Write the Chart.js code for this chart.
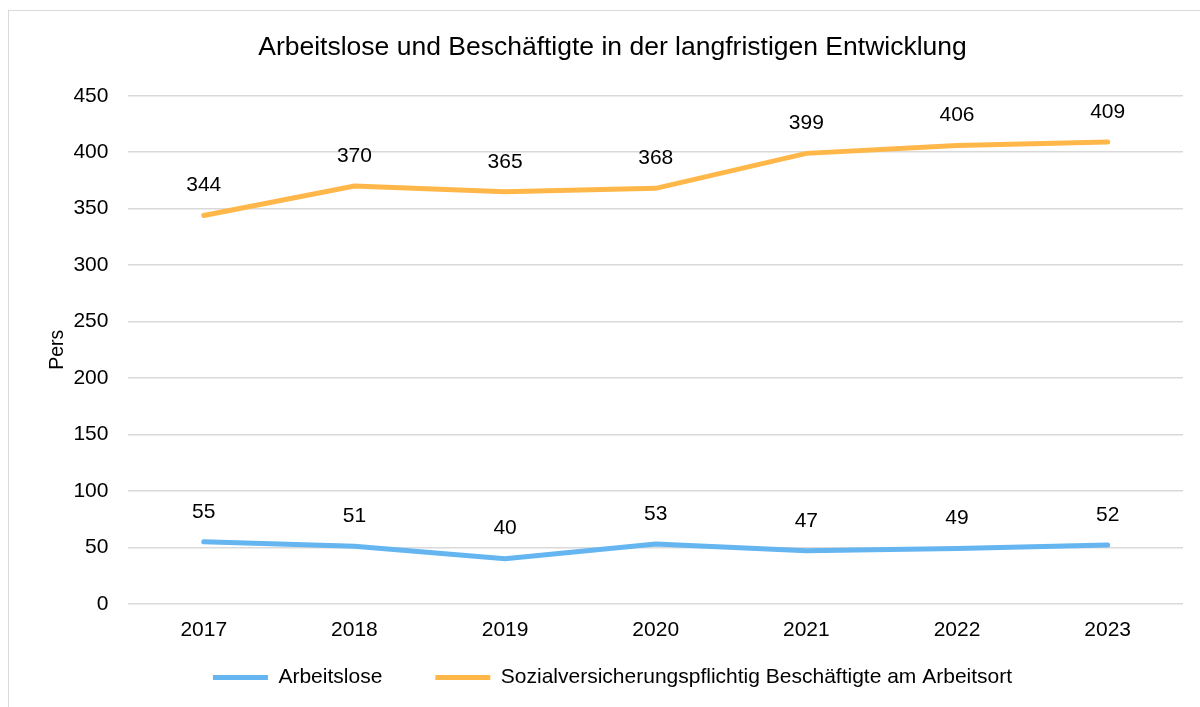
<!DOCTYPE html>
<html>
<head>
<meta charset="utf-8">
<script src="https://cdn.jsdelivr.net/npm/chart.js@4"></script>
<style>
  body { margin: 0; background: #fff; overflow: hidden; }
  #wrap { position: relative; width: 1200px; height: 707px; overflow: hidden; }
  #frame { position: absolute; left: 8px; top: 10px; width: 1220px; height: 710px; border: 1px solid #D9D9D9; }
  canvas { position: absolute; left: 0; top: 0; }
</style>
</head>
<body>
<div id="wrap">
  <div id="frame"></div>
  <canvas id="chart" width="1224" height="707"></canvas>
</div>
<script>
const years = ['2017', '2018', '2019', '2020', '2021', '2022', '2023'];
const arbeitslose = [55, 51, 40, 53, 47, 49, 52];
const beschaeftigte = [344, 370, 365, 368, 399, 406, 409];
const yTicks = [0, 50, 100, 150, 200, 250, 300, 350, 400, 450];

const FONT = '"Liberation Sans", Arial, sans-serif';

// value labels above each point
const labelPlugin = {
    id: 'valueLabels',
    afterDatasetsDraw(chart) {
        const ctx = chart.ctx;
        ctx.save();
        ctx.font = '21px ' + FONT;
        ctx.fillStyle = '#000';
        ctx.textAlign = 'center';
        ctx.textBaseline = 'middle';
        chart.data.datasets.forEach((ds, i) => {
            chart.getDatasetMeta(i).data.forEach((pt, j) => {
                ctx.fillText(ds.data[j], pt.x, pt.y - 30);
            });
        });
        ctx.restore();
    }
};

document.addEventListener("DOMContentLoaded", function() {
    const chart = document.getElementById('chart').getContext('2d');
    new Chart(chart, {
        type: 'line',
        data: {
            labels: years,
            datasets: [{
                label: 'Arbeitslose',
                data: arbeitslose,
                borderColor: '#64B5F0',
                backgroundColor: '#64B5F0',
                borderWidth: 5,
                borderCapStyle: 'round',
                pointRadius: 0,
                tension: 0
            }, {
                label: 'Sozialversicherungspflichtig Beschäftigte am Arbeitsort',
                data: beschaeftigte,
                borderColor: '#FFB74A',
                backgroundColor: '#FFB74A',
                borderWidth: 5,
                borderCapStyle: 'round',
                pointRadius: 0,
                tension: 0
            }]
        },
        options: {
            responsive: false,
            animation: false,
            layout: {
                padding: { left: 42, right: 41, top: 18, bottom: 9 }
            },
            scales: {
                y: {
                    min: 0,
                    max: 450,
                    afterBuildTicks: axis => { axis.ticks = yTicks.map(v => ({ value: v })); },
                    border: { display: false },
                    grid: { color: '#D9D9D9', lineWidth: 1.5, drawTicks: false },
                    ticks: {
                        padding: 20,
                        color: '#000',
                        font: { size: 21, family: FONT }
                    },
                    title: {
                        display: true,
                        text: 'Pers',
                        color: '#000',
                        padding: { top: 4, bottom: -16 },
                        font: { size: 19.5, family: FONT }
                    }
                },
                x: {
                    offset: true,
                    border: { display: false },
                    grid: { display: false },
                    ticks: {
                        padding: 6,
                        color: '#000',
                        font: { size: 21, family: FONT }
                    }
                }
            },
            plugins: {
                title: {
                    display: true,
                    text: 'Arbeitslose und Beschäftigte in der langfristigen Entwicklung',
                    color: '#000',
                    padding: { top: 14, bottom: 32 },
                    font: { size: 26.5, weight: 'normal', family: FONT }
                },
                legend: {
                    position: 'bottom',
                    labels: {
                        usePointStyle: true,
                        pointStyle: 'line',
                        pointStyleWidth: 55,
                        padding: 18,
                        color: '#000',
                        font: { size: 21, family: FONT },
                        generateLabels: chart => {
                            const items = Chart.defaults.plugins.legend.labels.generateLabels(chart);
                            items[0].text += '      ';
                            return items;
                        }
                    }
                },
                tooltip: { enabled: false }
            }
        },
        plugins: [labelPlugin]
    });
});
</script>
</body>
</html>
